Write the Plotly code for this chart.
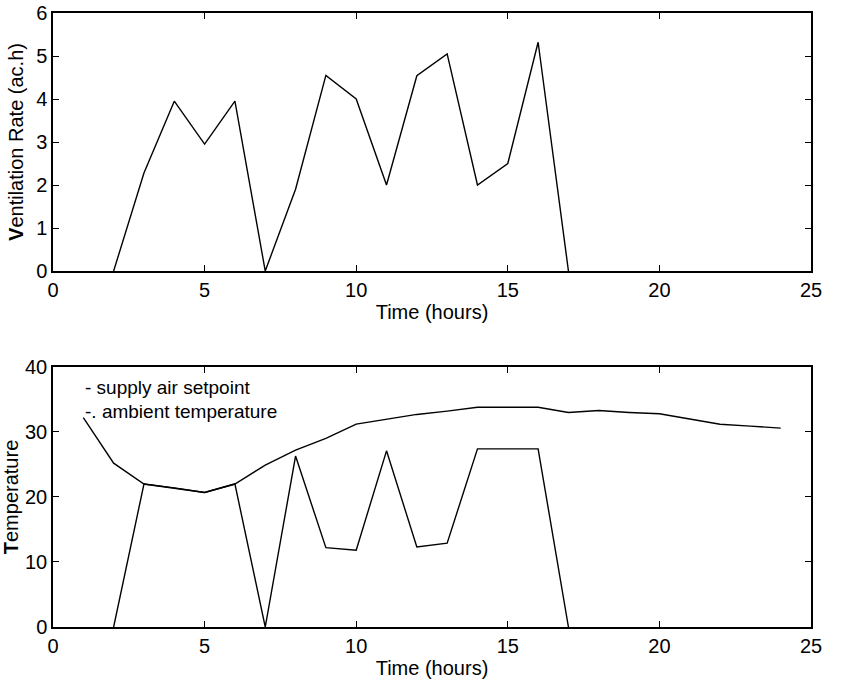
import plotly.graph_objects as go

# Top panel: ventilation rate
vent_t = [2, 3, 4, 5, 6, 7, 8, 9, 10, 11, 12, 13, 14, 15, 16, 17]
vent_rate = [0, 2.28, 3.95, 2.95, 3.95, 0, 1.9, 4.55, 4.0, 2.0, 4.54, 5.05, 2.0, 2.5, 5.32, 0]

# Bottom panel: temperatures
amb_t = list(range(1, 25))
amb_temp = [32.2, 25.2, 22.0, 21.4, 20.7, 22.0, 24.9, 27.2, 29.0, 31.2, 32.0, 32.7,
            33.2, 33.8, 33.8, 33.8, 33.0, 33.3, 33.0, 32.8, 32.0, 31.2, 30.9, 30.6]
sup_t = [2, 3, 4, 5, 6, 7, 8, 9, 10, 11, 12, 13, 14, 15, 16, 17]
sup_temp = [0, 22.0, 21.4, 20.7, 22.0, 0, 26.3, 12.2, 11.8, 27.1, 12.3, 12.9, 27.4, 27.4, 27.4, 0]

x_ticks = [0, 5, 10, 15, 20, 25]
vent_ticks = [0, 1, 2, 3, 4, 5, 6]
temp_ticks = [0, 10, 20, 30, 40]
legend_lines = ["- supply air setpoint", "-. ambient temperature"]

FONT = "Liberation Sans, Arial, sans-serif"
line_style = dict(color="black", width=1.4)

fig = go.Figure()
fig.add_trace(go.Scatter(x=vent_t, y=vent_rate, mode="lines", line=line_style,
                         xaxis="x", yaxis="y", showlegend=False, cliponaxis=False))
fig.add_trace(go.Scatter(x=amb_t, y=amb_temp, mode="lines", line=line_style,
                         xaxis="x2", yaxis="y2", showlegend=False, cliponaxis=False))
fig.add_trace(go.Scatter(x=sup_t, y=sup_temp, mode="lines", line=line_style,
                         xaxis="x2", yaxis="y2", showlegend=False, cliponaxis=False))

axis_common = dict(showline=True, linecolor="black", linewidth=1.5, mirror="allticks",
                   ticks="inside", ticklen=6, tickwidth=1.3, tickcolor="black",
                   showgrid=False, zeroline=False, automargin=False,
                   tickfont=dict(family=FONT, size=20, color="black"))

title_font = dict(family=FONT, size=20, color="black")

fig.update_layout(
    width=848, height=682,
    margin=dict(l=53, r=37, t=13, b=55),
    paper_bgcolor="white", plot_bgcolor="white",
    font=dict(family=FONT, size=20, color="black"),
    xaxis=dict(domain=[0, 1], range=[0, 25], tickvals=x_ticks, anchor="y",
               title=dict(text="Time (hours)", standoff=5, font=title_font),
               **axis_common),
    yaxis=dict(domain=[0.5798, 1], range=[0, 6], tickvals=vent_ticks, anchor="x",
               title=dict(text="<b>V</b>entilation Rate (ac.h)", standoff=7, font=title_font),
               **axis_common),
    xaxis2=dict(domain=[0, 1], range=[0, 25], tickvals=x_ticks, anchor="y2",
                title=dict(text="Time (hours)", standoff=5, font=title_font),
                **axis_common),
    yaxis2=dict(domain=[0, 0.4235], range=[0, 40], tickvals=temp_ticks, anchor="x2",
                title=dict(text="<b>T</b>emperature", standoff=5, font=title_font),
                **axis_common),
)

fig.add_annotation(x=1, y=36.9, xref="x2", yref="y2", text=legend_lines[0],
                   showarrow=False, xanchor="left", yanchor="middle",
                   font=dict(family=FONT, size=19, color="black"))
fig.add_annotation(x=1, y=33.1, xref="x2", yref="y2", text=legend_lines[1],
                   showarrow=False, xanchor="left", yanchor="middle",
                   font=dict(family=FONT, size=19, color="black"))

fig.write_html("out.html", config={"displayModeBar": False},
               post_script="document.body.style.margin='0';document.body.style.overflow='hidden';")
